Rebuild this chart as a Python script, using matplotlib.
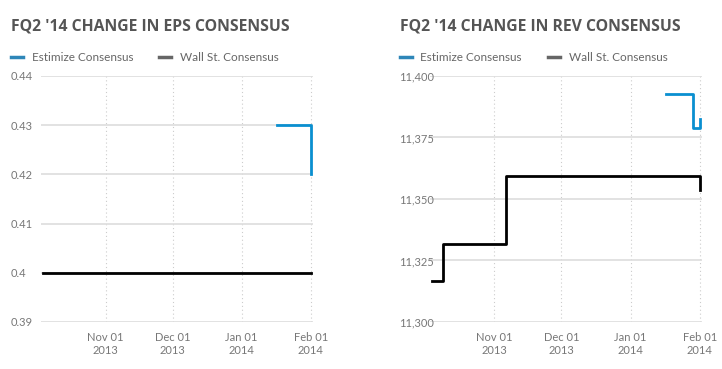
import matplotlib
matplotlib.use("Agg")
import matplotlib.pyplot as plt
import matplotlib.dates as mdates
from matplotlib.lines import Line2D
from matplotlib.ticker import FuncFormatter
from datetime import datetime

# EPS consensus (left panel)
eps_ws_dates = ["2013-10-04", "2014-02-01"]
eps_ws_vals = [0.40, 0.40]
eps_est_dates = ["2014-01-17", "2014-02-01"]
eps_est_vals = [0.43, 0.42]

# Revenue consensus (right panel), millions
rev_ws_dates = ["2013-10-04", "2013-10-09", "2013-11-06", "2014-02-01"]
rev_ws_vals = [11316.7, 11331.7, 11359.3, 11353.7]
rev_est_dates = ["2014-01-17", "2014-01-29", "2014-02-01"]
rev_est_vals = [11392.6, 11379.0, 11382.5]

tick_dates = ["2013-11-01", "2013-12-01", "2014-01-01", "2014-02-01"]
eps_yticks = [0.39, 0.40, 0.41, 0.42, 0.43, 0.44]
rev_yticks = [11300, 11325, 11350, 11375, 11400]
legend_labels = ["Estimize Consensus", "Wall St. Consensus"]

BLUE = "#0a8fd0"
BLACK = "#000000"
TITLE_C = "#555555"
TEXT_C = "#666666"
GRID_C = "#dddddd"

plt.rcParams["font.family"] = ["Lato", "DejaVu Sans"]


def d(s):
    return datetime.strptime(s, "%Y-%m-%d")


def setup_axis(ax, xlim, ylim, yticks, fmt):
    ax.set_xlim(d(xlim[0]), d(xlim[1]))
    ax.set_ylim(*ylim)
    ax.set_yticks(yticks)
    ax.yaxis.set_major_formatter(FuncFormatter(fmt))
    ax.set_xticks([d(t) for t in tick_dates])
    ax.xaxis.set_major_formatter(mdates.DateFormatter("%b %d\n%Y"))
    for s in ax.spines.values():
        s.set_visible(False)
    ax.tick_params(axis="both", length=0, colors="#777777", labelsize=8)
    ax.tick_params(axis="y", pad=22)
    ax.tick_params(axis="x", pad=7)
    for lbl in ax.get_yticklabels():
        lbl.set_horizontalalignment("left")
    ax.grid(axis="y", color=GRID_C, lw=1.2, ls="-")
    ax.grid(axis="x", color="#cccccc", lw=0.8, ls=(0, (1, 2.5)))
    ax.set_axisbelow(True)


def draw_panel(ax, title, ws_d, ws_v, est_d, est_v):
    ax.step([d(x) for x in ws_d], ws_v, where="post", color=BLACK, lw=2, zorder=3)
    ax.step([d(x) for x in est_d], est_v, where="post", color=BLUE, lw=2, zorder=4)
    ax.set_title(title, loc="left", fontsize=11.3, fontweight="bold",
                 color=TITLE_C, family=["Open Sans", "DejaVu Sans"],
                 x=-0.111, y=1.15)
    handles = [Line2D([], [], color="#2e86b8", lw=2.5),
               Line2D([], [], color="#666666", lw=2.5)]
    leg = ax.legend(handles, legend_labels,
                    loc="center left", bbox_to_anchor=(-0.110, 1.075), ncol=2,
                    frameon=False, handlelength=1.0, handletextpad=0.75,
                    columnspacing=2.2, fontsize=8.5, borderpad=0,
                    borderaxespad=0)
    for t in leg.get_texts():
        t.set_color(TEXT_C)


fig = plt.figure(figsize=(7.22, 3.69), dpi=100)
ax1 = fig.add_axes([0.0568, 0.1274, 0.3767, 0.6667])
ax2 = fig.add_axes([0.5952, 0.1274, 0.3771, 0.6667])

setup_axis(ax1, ("2013-10-03", "2014-02-02"), (0.39, 0.44), eps_yticks,
           lambda v, p: f"{v:g}")
setup_axis(ax2, ("2013-10-03", "2014-02-02"), (11300, 11400), rev_yticks,
           lambda v, p: f"{v:,.0f}")

draw_panel(ax1, "FQ2 '14 CHANGE IN EPS CONSENSUS", eps_ws_dates, eps_ws_vals,
           eps_est_dates, eps_est_vals)
draw_panel(ax2, "FQ2 '14 CHANGE IN REV CONSENSUS", rev_ws_dates, rev_ws_vals,
           rev_est_dates, rev_est_vals)

fig.savefig("out.png", dpi=100, facecolor="white")
